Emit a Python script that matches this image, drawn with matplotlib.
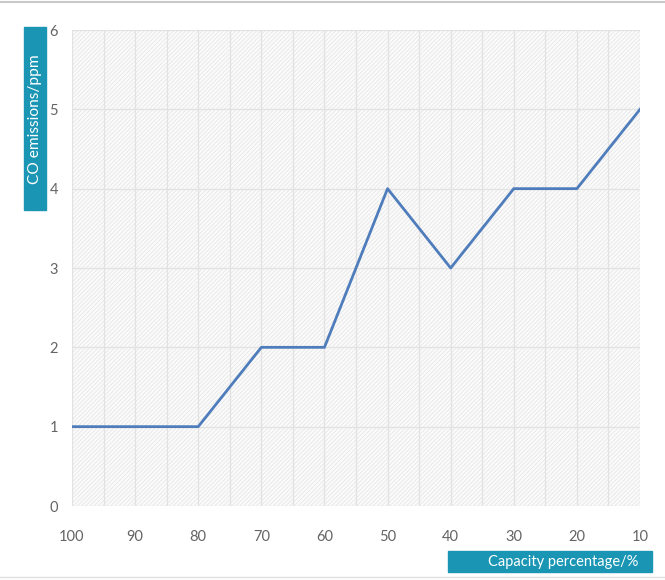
import matplotlib
matplotlib.use('Agg')
import matplotlib.pyplot as plt
from matplotlib.patches import Rectangle

plt.rcParams['font.family'] = ['Lato', 'DejaVu Sans']
plt.rcParams['hatch.color'] = '#e6e6e6'
plt.rcParams['hatch.linewidth'] = 0.6

# Data
capacity = [100, 90, 80, 70, 60, 50, 40, 30, 20, 10]
co_ppm = [1, 1, 1, 2, 2, 4, 3, 4, 4, 5]
x_ticks = [100, 90, 80, 70, 60, 50, 40, 30, 20, 10]
y_ticks = [0, 1, 2, 3, 4, 5, 6]

W, H = 665, 580
fig = plt.figure(figsize=(W / 100, H / 100), dpi=100)
ax = fig.add_axes([72 / W, 1 - 506 / H, (640 - 72) / W, (506 - 30) / H])

ax.patch.set_facecolor('#fbfbfb')
ax.patch.set_hatch('////////')
ax.patch.set_edgecolor('#e6e6e6')

ax.plot(capacity, co_ppm, color='#4f7dbc', linewidth=2, zorder=3)

ax.set_xlim(100, 10)
ax.set_ylim(0, 6)
ax.set_xticks(x_ticks)
ax.set_yticks(y_ticks)
ax.set_xticks(range(95, 10, -10), minor=True)
ax.grid(True, which='major', color='#e2e2e2', linewidth=0.9)
ax.grid(True, which='minor', axis='x', color='#e2e2e2', linewidth=0.9)
ax.set_axisbelow(True)
for s in ax.spines.values():
    s.set_visible(False)
ax.tick_params(which='both', length=0, labelsize=10.5, colors='#646464')
ax.tick_params(axis='y', pad=10)
ax.tick_params(axis='x', pad=17)

# axis label boxes
teal = '#1a96b4'
fig.patches.append(Rectangle((24 / W, 1 - 210 / H), 22 / W, 183 / H,
                             transform=fig.transFigure, color=teal, zorder=0))
fig.text(35 / W, 1 - 119 / H, 'CO emissions/ppm', rotation=90, color='white',
         fontsize=11.2, ha='center', va='center')
fig.patches.append(Rectangle((448 / W, 1 - 572 / H), 204 / W, 21 / H,
                             transform=fig.transFigure, color=teal, zorder=0))
fig.text(638 / W, 1 - 562 / H, 'Capacity percentage/%', color='white',
         fontsize=10.5, ha='right', va='center')

# thin frame lines at top and bottom
fig.add_artist(plt.Line2D([0, 1], [1 - 2 / H, 1 - 2 / H], color='#c8c8c8', linewidth=1.5))
fig.add_artist(plt.Line2D([0, 1], [1 - 577 / H, 1 - 577 / H], color='#e0e0e0', linewidth=1))

fig.savefig('out.png', dpi=100)
